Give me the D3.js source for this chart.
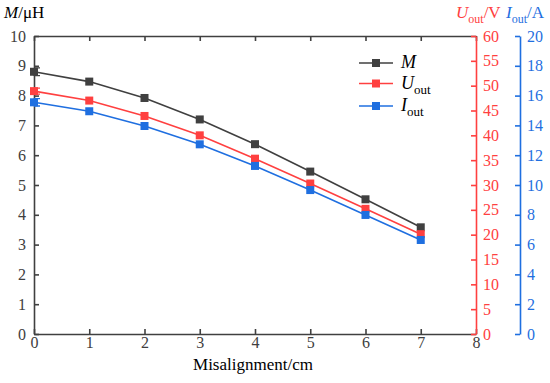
<!DOCTYPE html>
<html>
<head>
<meta charset="utf-8">
<script src="https://cdn.jsdelivr.net/npm/d3@7"></script>
<style>
  body { margin: 0; background: #fff; }
  svg text { font-family: "Liberation Serif", "DejaVu Serif", serif !important; }
</style>
</head>
<body>
<div id="chart"></div>
<script>
// data
var misalign = [0, 1, 2, 3, 4, 5, 6, 7];
var mValues = [8.8, 8.47, 7.92, 7.2, 6.37, 5.45, 4.52, 3.58];
var mError = [0.13, 0, 0, 0, 0, 0, 0, 0];
var uValues = [48.9, 47.0, 43.9, 40.0, 35.3, 30.3, 25.2, 20.1];
var uError = [0.6, 0, 0, 0, 0, 0, 0, 0];
var iValues = [15.55, 14.95, 13.96, 12.73, 11.28, 9.66, 7.99, 6.31];
var iError = [0.25, 0, 0, 0, 0, 0, 0, 0];
var xTicks = [0, 1, 2, 3, 4, 5, 6, 7, 8];
var mTicks = [0, 1, 2, 3, 4, 5, 6, 7, 8, 9, 10];
var uTicks = [0, 5, 10, 15, 20, 25, 30, 35, 40, 45, 50, 55, 60];
var iTicks = [0, 2, 4, 6, 8, 10, 12, 14, 16, 18, 20];

var W = 550, H = 383;
var plotL = 34, plotR = 476, plotT = 36, plotB = 334;
var blueX = 520;

var cM = "#404040", cU = "#ff4040", cI = "#1f6fe0";
var serif = "Liberation Serif";

var svg = d3.select("#chart").append("svg")
    .attr("width", W).attr("height", H);

var x = d3.scaleLinear().domain([0, 8]).range([plotL, plotR]);
var yM = d3.scaleLinear().domain([0, 10]).range([plotB, plotT]);
var yU = d3.scaleLinear().domain([0, 60]).range([plotB, plotT]);
var yI = d3.scaleLinear().domain([0, 20]).range([plotB, plotT]);

function styleAxis(g, color) {
    g.attr("font-family", serif);
    g.select(".domain").attr("stroke", color).attr("stroke-width", 1.6);
    g.selectAll(".tick line").attr("stroke", color).attr("stroke-width", 1.6);
    g.selectAll(".tick text").attr("fill", color).attr("font-size", 16);
}

// bottom axis, ticks inward
var gx = svg.append("g").attr("transform", "translate(0," + plotB + ")")
    .call(d3.axisBottom(x).tickValues(xTicks).tickSizeInner(-5).tickSizeOuter(0).tickPadding(3));
styleAxis(gx, cM);

// top border with ticks
var gxt = svg.append("g").attr("transform", "translate(0," + plotT + ")")
    .call(d3.axisTop(x).tickValues(xTicks).tickSizeInner(-5).tickSizeOuter(0).tickFormat(""));
styleAxis(gxt, cM);

// left axis
var gy = svg.append("g").attr("transform", "translate(" + plotL + ",0)")
    .call(d3.axisLeft(yM).tickValues(mTicks).tickSizeInner(-5).tickSizeOuter(0).tickPadding(8));
styleAxis(gy, cM);

// right red axis
var gu = svg.append("g").attr("transform", "translate(" + plotR + ",0)")
    .call(d3.axisRight(yU).tickValues(uTicks).tickSizeInner(-5).tickSizeOuter(0).tickPadding(7));
styleAxis(gu, cU);

// right blue axis
var gi = svg.append("g").attr("transform", "translate(" + blueX + ",0)")
    .call(d3.axisRight(yI).tickValues(iTicks).tickSizeInner(-5).tickSizeOuter(0).tickPadding(7));
styleAxis(gi, cI);

var series = [
    { vals: mValues, err: mError, y: yM, color: cM },
    { vals: uValues, err: uError, y: yU, color: cU },
    { vals: iValues, err: iError, y: yI, color: cI }
];

series.forEach(function (s) {
    // error bars
    svg.selectAll(null).data(s.vals.map(function (v, i) { return i; })
            .filter(function (i) { return s.err[i] > 0; }))
        .enter().append("path")
        .attr("stroke", s.color).attr("stroke-width", 1.4).attr("fill", "none")
        .attr("d", function (i) {
            var cx = x(misalign[i]);
            var y0 = s.y(s.vals[i] - s.err[i]), y1 = s.y(s.vals[i] + s.err[i]);
            return "M" + cx + "," + y0 + "H" + (cx + 6) + "M" + cx + "," + y0 + "V" + y1 +
                "M" + cx + "," + y1 + "H" + (cx + 6);
        });

    var line = d3.line()
        .x(function (d, i) { return x(misalign[i]); })
        .y(function (d) { return s.y(d); });
    svg.append("path").datum(s.vals)
        .attr("fill", "none").attr("stroke", s.color).attr("stroke-width", 1.6)
        .attr("d", line);
    svg.selectAll(null).data(s.vals).enter().append("rect")
        .attr("x", function (d, i) { return x(misalign[i]) - 4; })
        .attr("y", function (d) { return s.y(d) - 4; })
        .attr("width", 8).attr("height", 8)
        .attr("fill", s.color);
});

// legend
var legend = [
    { name: "M", sub: "", color: cM, y: 63 },
    { name: "U", sub: "out", color: cU, y: 83.5 },
    { name: "I", sub: "out", color: cI, y: 106 }
];
var lg = svg.selectAll(".lg").data(legend).enter().append("g")
    .attr("transform", function (d) { return "translate(359," + d.y + ")"; });
lg.append("line").attr("x1", 0).attr("x2", 34)
    .attr("stroke", function (d) { return d.color; }).attr("stroke-width", 1.6);
lg.append("rect").attr("x", 13).attr("y", -4).attr("width", 8).attr("height", 8)
    .attr("fill", function (d) { return d.color; });
var lt = lg.append("text").attr("x", 42).attr("y", 5).attr("font-size", 18)
    .attr("font-family", serif).attr("fill", "#000");
lt.append("tspan").attr("font-style", "italic").text(function (d) { return d.name; });
lt.append("tspan").attr("font-size", 13).attr("dy", 5).text(function (d) { return d.sub; });

// axis titles
var t1 = svg.append("text").attr("x", 4).attr("y", 18).attr("font-size", 17)
    .attr("font-family", serif).attr("fill", "#000");
t1.append("tspan").attr("font-style", "italic").text("M");
t1.append("tspan").text("/μH");

var t2 = svg.append("text").attr("x", 456).attr("y", 18).attr("font-size", 17)
    .attr("font-family", serif).attr("fill", cU);
t2.append("tspan").attr("font-style", "italic").text("U");
t2.append("tspan").attr("font-size", 12).attr("dy", 5).text("out");
t2.append("tspan").attr("dy", -5).text("/V");

var t3 = svg.append("text").attr("x", 506).attr("y", 18).attr("font-size", 17)
    .attr("font-family", serif).attr("fill", cI);
t3.append("tspan").attr("font-style", "italic").text("I");
t3.append("tspan").attr("font-size", 12).attr("dy", 5).text("out");
t3.append("tspan").attr("dy", -5).text("/A");

svg.append("text").attr("x", 253).attr("y", 370)
    .attr("text-anchor", "middle").attr("font-size", 17)
    .attr("font-family", serif).attr("fill", "#000")
    .text("Misalignment/cm");
</script>
</body>
</html>
